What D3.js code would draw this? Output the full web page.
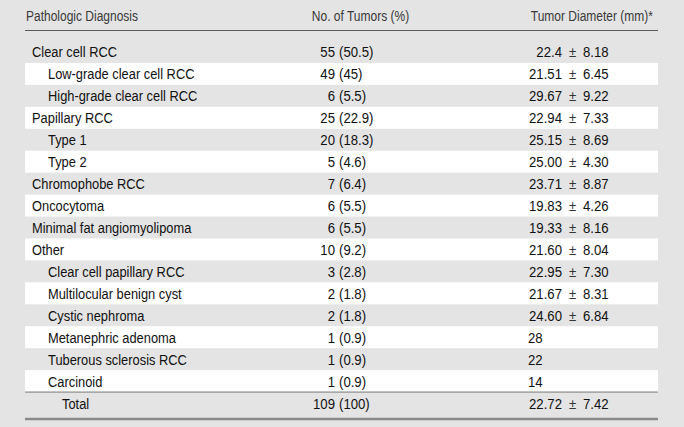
<!DOCTYPE html>
<html>
<head>
<meta charset="utf-8">
<script src="https://cdn.jsdelivr.net/npm/d3@7"></script>
<style>
  html, body { margin: 0; padding: 0; background: #e4e4e4; }
  svg { display: block; }
  text { font-family: "Liberation Sans", Arial, sans-serif; }
</style>
</head>
<body>
<div id="chart"></div>
<script>
// ---- data ----
const headers = ["Pathologic Diagnosis", "No. of Tumors (%)", "Tumor Diameter (mm)*"];
const categories = [
  "Clear cell RCC", "Low-grade clear cell RCC", "High-grade clear cell RCC",
  "Papillary RCC", "Type 1", "Type 2", "Chromophobe RCC", "Oncocytoma",
  "Minimal fat angiomyolipoma", "Other", "Clear cell papillary RCC",
  "Multilocular benign cyst", "Cystic nephroma", "Metanephric adenoma",
  "Tuberous sclerosis RCC", "Carcinoid"
];
const isSubtype = [false, true, true, false, true, true, false, false, false, false, true, true, true, true, true, true];
const counts = [55, 49, 6, 25, 20, 5, 7, 6, 6, 10, 3, 2, 2, 1, 1, 1];
const percents = ["50.5", "45", "5.5", "22.9", "18.3", "4.6", "6.4", "5.5", "5.5", "9.2", "2.8", "1.8", "1.8", "0.9", "0.9", "0.9"];
const meanDiameters = ["22.4", "21.51", "29.67", "22.94", "25.15", "25.00", "23.71", "19.83", "19.33", "21.60", "22.95", "21.67", "24.60", "28", "22", "14"];
const sdDiameters = ["8.18", "6.45", "9.22", "7.33", "8.69", "4.30", "8.87", "4.26", "8.16", "8.04", "7.30", "8.31", "6.84", null, null, null];
const totalLabel = "Total";
const totalCount = 109;
const totalPercent = "100";
const totalMean = "22.72";
const totalSd = "7.42";

// ---- layout ----
const W = 684, H = 427;
const SX_HEAD = 0.8, SX_TEXT = 0.83, SX_NUM = 0.85;
const svg = d3.select("#chart").append("svg").attr("width", W).attr("height", H);
svg.append("rect").attr("width", W).attr("height", H).attr("fill", "#e4e4e4");

const rows = categories.map((c, i) => ({
  name: c, sub: isSubtype[i], count: counts[i], pct: percents[i],
  mean: meanDiameters[i], sd: sdDiameters[i], total: false
}));
rows.push({ name: totalLabel, sub: false, count: totalCount, pct: totalPercent,
  mean: totalMean, sd: totalSd, total: true });

const y = d3.scaleBand().domain(d3.range(rows.length)).range([41, 414]).padding(0);
const left = 25, right = 658;

// stripes
svg.append("g").selectAll("rect")
  .data(rows.map((r, i) => ({ r, i })).filter(d => !d.r.total && d.i % 2 === 1))
  .join("rect")
  .attr("x", left).attr("width", right - left)
  .attr("y", d => y(d.i)).attr("height", y.bandwidth())
  .attr("fill", "#ffffff");

// rules
svg.append("line").attr("x1", left).attr("x2", right).attr("y1", 30.5).attr("y2", 30.5)
  .attr("stroke", "#5a5a5a").attr("stroke-width", 1.2);
svg.append("line").attr("x1", left).attr("x2", right)
  .attr("y1", y(rows.length - 1)).attr("y2", y(rows.length - 1))
  .attr("stroke", "#777").attr("stroke-width", 1);
svg.append("line").attr("x1", left).attr("x2", right).attr("y1", 419).attr("y2", 419)
  .attr("stroke", "#8a8a8a").attr("stroke-width", 2.5);

// helper: condensed text placed at (x, y) with horizontal squeeze
function place(sel, x, sx) {
  return sel.attr("transform", d => `translate(${typeof x === "function" ? x(d) : x},0) scale(${sx},1)`);
}

// headers
const hdr = svg.append("g").attr("fill", "#3a3a3a").style("font-size", "15px")
  .attr("transform", "translate(0,21)");
place(hdr.append("text"), 26, SX_HEAD).text(headers[0]);
place(hdr.append("text").attr("text-anchor", "middle"), 360.5, SX_HEAD).text(headers[1]);
place(hdr.append("text").attr("text-anchor", "end"), 653, SX_HEAD).text(headers[2]);

// body
const body = svg.append("g").attr("fill", "#111").style("font-size", "15.5px");
const g = body.selectAll("g.row").data(rows).join("g").attr("class", "row")
  .attr("transform", (d, i) => `translate(0,${y(i) + y.bandwidth() / 2 + 5.5})`);

place(g.append("text"), d => d.total ? 62 : (d.sub ? 48 : 32), SX_TEXT).text(d => d.name);
place(g.append("text").attr("text-anchor", "end"), 335, SX_NUM).text(d => d.count);
place(g.append("text"), 339, SX_NUM).text(d => `(${d.pct})`);

const withSd = g.filter(d => d.sd !== null);
place(withSd.append("text").attr("text-anchor", "end"), 562, SX_NUM).text(d => d.mean);
place(withSd.append("text").attr("text-anchor", "middle").attr("fill", "#333"), 572.5, SX_NUM).text("\u00b1");
place(withSd.append("text"), 583, SX_NUM).text(d => d.sd);
place(g.filter(d => d.sd === null).append("text"), 528, SX_NUM).text(d => d.mean);
</script>
</body>
</html>
